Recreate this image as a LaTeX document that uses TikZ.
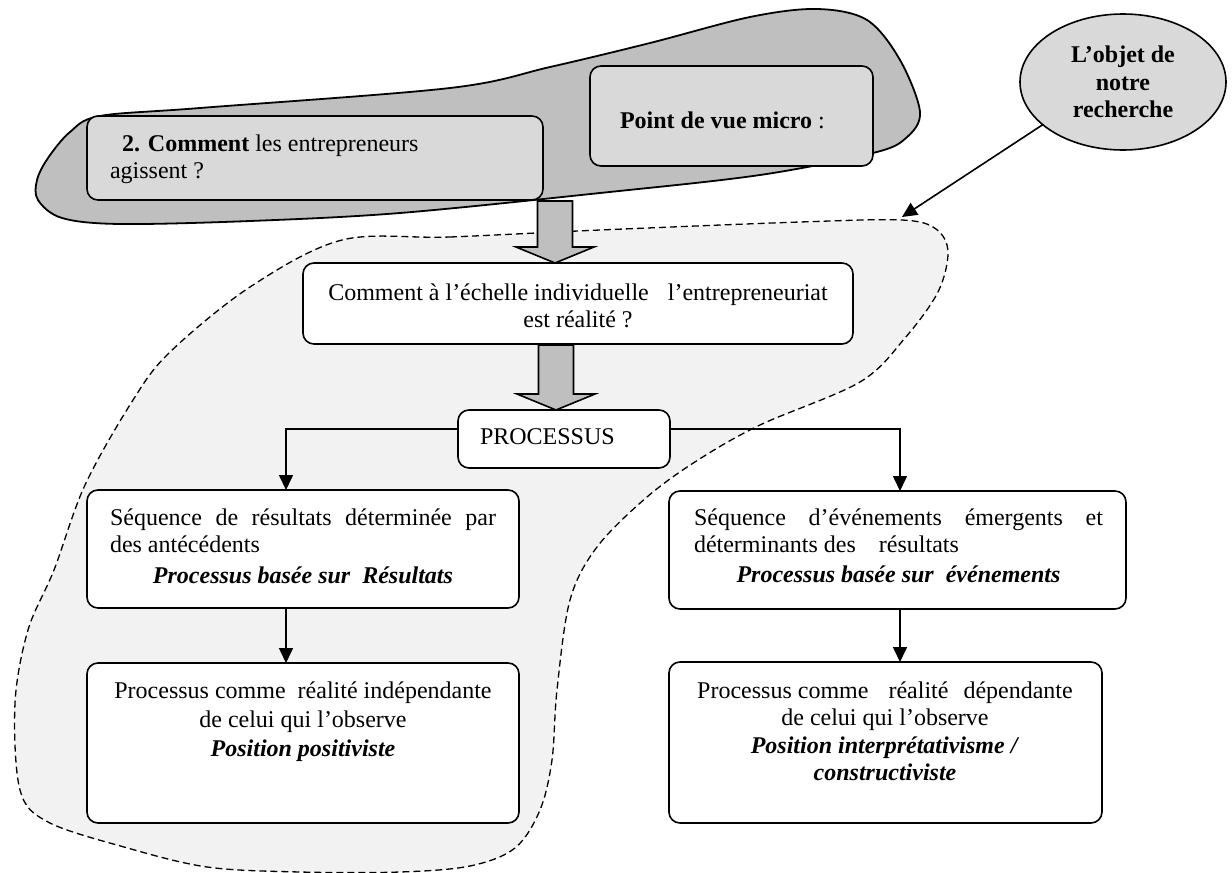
\documentclass[tikz,border=0pt]{standalone}
\usepackage{fontspec}
\setmainfont{Liberation Serif}
\usetikzlibrary{arrows.meta,shapes.geometric,calc}

\definecolor{blobgray}{HTML}{BFBFBF}
\definecolor{boxgray}{HTML}{D9D9D9}
\definecolor{zonegray}{HTML}{F2F2F2}

% gray block arrow pointing down from #1 to #2
\newcommand\blockarrow[2]{%
  \draw[bigarrow] let \p1=(#1), \p2=(#2) in
    (\x1-17.5pt,\y1) -- (\x1+17.5pt,\y1) -- (\x1+17.5pt,\y2+16pt) -- (\x1+39pt,\y2+16pt)
    -- (\x1,\y2) -- (\x1-39pt,\y2+16pt) -- (\x1-17.5pt,\y2+16pt) -- cycle;}

\begin{document}
\begin{tikzpicture}[x=1pt,y=-1pt,
  every node/.style={inner sep=0pt, outer sep=0pt},
  txt/.style={font=\fontsize{24}{27.6}\selectfont, anchor=base west},
  box/.style={draw, line width=1.6pt, rounded corners=11pt, fill=white},
  graybox/.style={box, fill=boxgray},
  bigarrow/.style={draw, line width=1.6pt, fill=blobgray, line join=miter},
  conn/.style={line width=1.6pt, -{Triangle[length=15pt,width=14pt]}},
  zone/.style={draw, fill=zonegray, line width=1.3pt, dash pattern=on 7pt off 4pt},
  blob/.style={draw, fill=blobgray, line width=1.8pt}]

\useasboundingbox (0,0) rectangle (1232,873);

% dashed zone around the individual-level analysis
\path[zone] plot[smooth cycle, tension=0.55] coordinates {
  (342,240) (450,237) (600,230) (800,222) (902,220) (936,229) (948,252)
  (938,292) (905,338) (860,382) (760,425) (698,460) (647,497) (597,547)
  (570,600) (557,690) (552,760) (540,810) (515,848) (470,866) (400,872)
  (300,872) (207,867) (124,847) (48,822) (20,790) (15,703) (28,630)
  (54,570) (85,485) (133,400) (170,352) (250,287)};

% gray blob of the micro point of view
\path[blob] plot[smooth cycle, tension=0.55] coordinates {
  (200,108) (450,88) (550,67) (650,43) (750,17) (817,9) (867,20) (900,60)
  (920,112) (906,138) (873,153) (760,175) (600,193) (400,213) (250,221)
  (120,224) (62,218) (38,200) (37,180) (48,158) (70,132) (100,116)};

% boxes
\node[graybox, minimum width=456pt, minimum height=84pt] (q2) at (315,158) {};
\node[graybox, minimum width=283pt, minimum height=100pt] (micro) at (731.5,116) {};
\node[box, minimum width=550pt, minimum height=81pt] (ech) at (578,303.5) {};
\node[box, minimum width=212pt, minimum height=58pt] (proc) at (564,439) {};
\node[box, minimum width=432pt, minimum height=118pt] (lb1) at (303,549) {};
\node[box, minimum width=432pt, minimum height=160pt] (lb2) at (303,743) {};
\node[box, minimum width=457pt, minimum height=118pt] (rb1) at (897.5,550) {};
\node[box, minimum width=433pt, minimum height=161pt] (rb2) at (885.5,742.5) {};

\node[draw, ellipse, line width=1.6pt, fill=boxgray, minimum width=206pt,
  minimum height=136pt, align=center, font=\bfseries\fontsize{24}{27.6}\selectfont]
  (obj) at (1123,82) {L’objet de\\notre\\recherche};

% texts
\node[txt] (q2-t) at (110,151) {\parbox[t]{420pt}{\hspace*{12pt}\textbf{2. Comment} les entrepreneurs\\agissent ?}};
\node[txt] (micro-t) at (620,128) {\textbf{Point de vue micro} :};
\node[txt, anchor=base] (ech-t) at (578,300) {\parbox[t]{540pt}{\centering Comment à l’échelle individuelle\hspace{13pt} l’entrepreneuriat\\est réalité ?}};
\node[txt] (proc-t) at (480,444) {PROCESSUS};
\node[txt] (lb1-t) at (110,525) {\parbox[t]{386pt}{\makebox[386pt][s]{Séquence de résultats déterminée par}\\des antécédents\\[3pt]\makebox[386pt]{\textbf{\textit{Processus basée sur\ \ Résultats}}}}};
\node[txt, anchor=base] (lb2-t) at (303,698) {\parbox[t]{420pt}{\centering Processus comme\ \ réalité indépendante\\[1.5pt]de celui qui l’observe\\[2pt]\textbf{\textit{Position positiviste}}}};
\node[txt] (rb1-t) at (694,525) {\parbox[t]{409pt}{\makebox[409pt][s]{Séquence d’événements émergents et}\\déterminants des\hspace{17pt} résultats\\[2.5pt]\makebox[409pt]{\textbf{\textit{Processus basée sur\ \ événements}}}}};
\node[txt, anchor=base] (rb2-t) at (885,698) {\parbox[t]{420pt}{\centering Processus comme\hspace{14pt} réalité\hspace{9pt} dépendante\\de celui qui l’observe\\\textbf{\textit{Position interprétativisme /}}\\\textbf{\textit{constructiviste}}}};

% gray block arrows
\coordinate (a1) at (555,201);
\coordinate (a2) at (556,345);
\blockarrow{a1}{a1 |- ech.north}
\blockarrow{a2}{a2 |- proc.north}

% connectors
\coordinate (jl) at (286,429);
\coordinate (jr) at (900,429);
\draw[conn] (proc.west |- jl) -- (jl) -- (jl |- lb1.north);
\draw[conn] (proc.east |- jr) -- (jr) -- (jr |- rb1.north);
\draw[conn] (jl |- lb1.south) -- (jl |- lb2.north);
\draw[conn] (jr |- rb1.south) -- (jr |- rb2.north);

\coordinate (tgt) at (902,217);
\draw[conn] (obj.208) -- (tgt);

\end{tikzpicture}
\end{document}
